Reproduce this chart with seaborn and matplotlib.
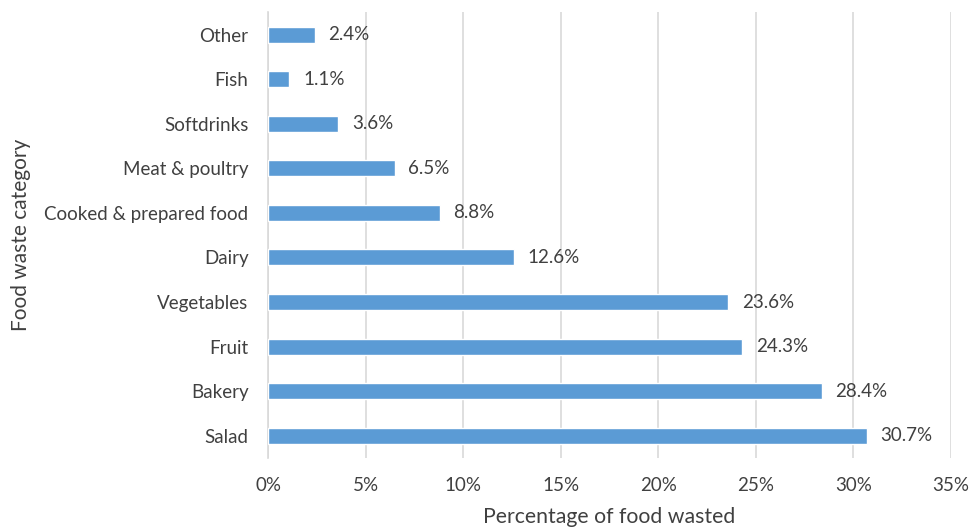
import matplotlib
matplotlib.use("Agg")
import matplotlib.pyplot as plt
import seaborn as sns
import pandas as pd

categories = ["Other", "Fish", "Softdrinks", "Meat & poultry", "Cooked & prepared food",
              "Dairy", "Vegetables", "Fruit", "Bakery", "Salad"]
values = [2.4, 1.1, 3.6, 6.5, 8.8, 12.6, 23.6, 24.3, 28.4, 30.7]
xticks = [0, 5, 10, 15, 20, 25, 30, 35]

df = pd.DataFrame({"category": categories, "pct": values})

sns.set_theme(style="white")
plt.rcParams["font.family"] = ["Lato", "DejaVu Sans"]
txt = "#404040"

fig = plt.figure(figsize=(9.69, 5.32), dpi=100)
ax = fig.add_axes([0.2766, 0.139, 0.7045, 0.838])

sns.barplot(data=df, x="pct", y="category", color="#5B9BD5", width=0.36,
            saturation=1, ax=ax, zorder=3)

for i, v in enumerate(values):
    ax.text(v + 0.7, i, f"{v:.1f}%", va="center", ha="left", fontsize=13.5, color=txt)

ax.set_xlim(0, 35)
ax.set_ylim(9.5, -0.5)
ax.set_xticks(xticks)
ax.set_xticklabels([f"{t}%" for t in xticks])
ax.xaxis.grid(True, color="#d9d9d9", linewidth=1.2, zorder=0)
ax.set_axisbelow(True)
for s in ["top", "right", "bottom"]:
    ax.spines[s].set_visible(False)
ax.spines["left"].set_color("#d9d9d9")
ax.spines["left"].set_linewidth(1.2)
ax.tick_params(axis="both", length=0, labelsize=13.5, labelcolor=txt)
ax.tick_params(axis="x", pad=14)
ax.tick_params(axis="y", pad=14)

ax.set_xlabel("Percentage of food wasted", fontsize=15.3, color=txt, labelpad=9)
ax.set_ylabel("Food waste category", fontsize=15, color=txt, labelpad=10)

fig.savefig("out.png", dpi=100, facecolor="white")
